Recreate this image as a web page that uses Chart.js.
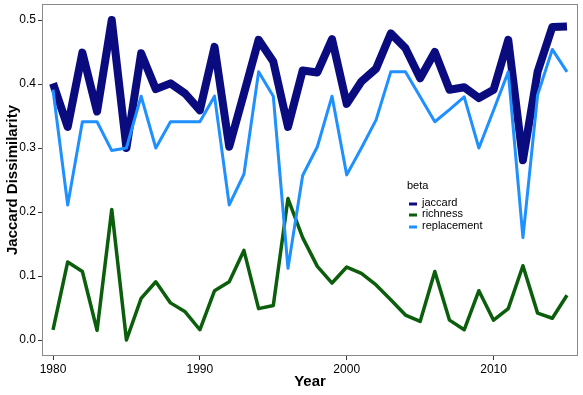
<!DOCTYPE html>
<html>
<head>
<meta charset="utf-8">
<script src="https://cdn.jsdelivr.net/npm/chart.js@4.4.0/dist/chart.umd.min.js"></script>
<style>
  body { margin: 0; background: #fff; }
  canvas { display: block; }
</style>
</head>
<body>
<canvas id="myChart" width="583" height="395"></canvas>
<script>
const years = []
for (let y = 1980; y <= 2015; y++) years.push(y)

const jaccard = [0.401, 0.333, 0.449, 0.357, 0.500, 0.300, 0.448, 0.392, 0.401, 0.385,
  0.359, 0.458, 0.302, 0.385, 0.469, 0.435, 0.333, 0.421, 0.418, 0.470,
  0.369, 0.404, 0.424, 0.479, 0.456, 0.409, 0.450, 0.391, 0.395, 0.378,
  0.391, 0.469, 0.281, 0.419, 0.489, 0.490]
const richness = [0.016, 0.122, 0.107, 0.015, 0.204, 0.000, 0.065, 0.091, 0.058, 0.044,
  0.016, 0.077, 0.091, 0.140, 0.049, 0.054, 0.221, 0.160, 0.115, 0.089,
  0.114, 0.104, 0.086, 0.063, 0.039, 0.029, 0.107, 0.031, 0.016, 0.077,
  0.031, 0.049, 0.116, 0.042, 0.034, 0.070]
const replacement = [0.391, 0.211, 0.341, 0.341, 0.296, 0.300, 0.381, 0.300, 0.341, 0.341,
  0.341, 0.381, 0.211, 0.259, 0.419, 0.381, 0.112, 0.257, 0.302, 0.381,
  0.258, 0.300, 0.344, 0.419, 0.419, 0.380, 0.341, 0.360, 0.380, 0.300,
  0.359, 0.419, 0.160, 0.383, 0.454, 0.419]

const xTicks = [1980, 1990, 2000, 2010]
const yTicks = [0, 0.1, 0.2, 0.3, 0.4, 0.5]

const seriesNames = ['jaccard', 'richness', 'replacement']
const seriesColors = ['#0b0b80', '#0b5e0b', '#1e90ff']
const seriesWidths = [8, 3.5, 3]

const toPoints = vals => vals.map((v, i) => ({ x: years[i], y: v }))

// frame + inside legend, ggplot style
const frameAndLegend = {
  id: 'frameAndLegend',
  afterDraw: chart => {
    const ctx = chart.ctx
    const a = chart.chartArea
    ctx.save()
    ctx.strokeStyle = '#8a8a8a'
    ctx.lineWidth = 1
    ctx.strokeRect(a.left + 0.5, a.top + 0.5, a.right - a.left - 1, a.bottom - a.top - 1)

    ctx.fillStyle = '#000'
    ctx.font = '11px "Liberation Sans", Arial, sans-serif'
    ctx.textBaseline = 'middle'
    ctx.fillText('beta', 407, 186)
    const rows = [203, 214, 226]
    seriesNames.forEach((name, i) => {
      ctx.strokeStyle = seriesColors[i]
      ctx.lineWidth = 3
      ctx.beginPath()
      ctx.moveTo(409, rows[i] + 1)
      ctx.lineTo(417, rows[i] + 1)
      ctx.stroke()
      ctx.fillStyle = '#000'
      ctx.fillText(name, 422, rows[i])
    })
    ctx.restore()
  }
}

new Chart('myChart', {
  type: 'line',
  plugins: [frameAndLegend],
  data: {
    datasets: seriesNames.map((name, i) => ({
      label: name,
      data: toPoints([jaccard, richness, replacement][i]),
      borderColor: seriesColors[i],
      borderWidth: seriesWidths[i],
      borderJoinStyle: 'round',
      borderCapStyle: 'butt',
      pointRadius: 0,
      fill: false,
      tension: 0,
      order: 2 - i
    }))
  },
  options: {
    responsive: false,
    animation: false,
    layout: { padding: { top: 4, right: 5, left: 0, bottom: 0 } },
    plugins: {
      legend: { display: false },
      tooltip: { enabled: false }
    },
    scales: {
      x: {
        type: 'linear',
        min: 1979.25,
        max: 2015.75,
        afterBuildTicks: scale => { scale.ticks = xTicks.map(v => ({ value: v })) },
        afterFit: scale => {
          scale.height = 39
          scale.paddingLeft = 0
          scale.paddingRight = 0
        },
        grid: { display: true, drawOnChartArea: false, drawTicks: true, tickLength: 4, color: '#333' },
        border: { display: false },
        ticks: {
          color: '#000',
          padding: 2,
          maxRotation: 0,
          font: { family: '"Liberation Sans", Arial, sans-serif', size: 12 },
          callback: v => String(v)
        },
        title: {
          display: true,
          text: 'Year',
          color: '#000',
          padding: { top: 0, bottom: 4 },
          font: { family: '"Liberation Sans", Arial, sans-serif', size: 15, weight: 'bold' }
        }
      },
      y: {
        min: -0.025,
        max: 0.525,
        afterBuildTicks: scale => { scale.ticks = yTicks.map(v => ({ value: v })) },
        afterFit: scale => {
          scale.width = 42
          scale.paddingTop = 0
          scale.paddingBottom = 0
        },
        grid: { display: true, drawOnChartArea: false, drawTicks: true, tickLength: 4, color: '#333' },
        border: { display: false },
        ticks: {
          color: '#000',
          padding: 2,
          font: { family: '"Liberation Sans", Arial, sans-serif', size: 12 },
          callback: v => v.toFixed(1)
        },
        title: {
          display: true,
          text: 'Jaccard Dissimilarity',
          color: '#000',
          padding: { top: 4, bottom: 0 },
          font: { family: '"Liberation Sans", Arial, sans-serif', size: 15, weight: 'bold' }
        }
      }
    }
  }
})
</script>
</body>
</html>
